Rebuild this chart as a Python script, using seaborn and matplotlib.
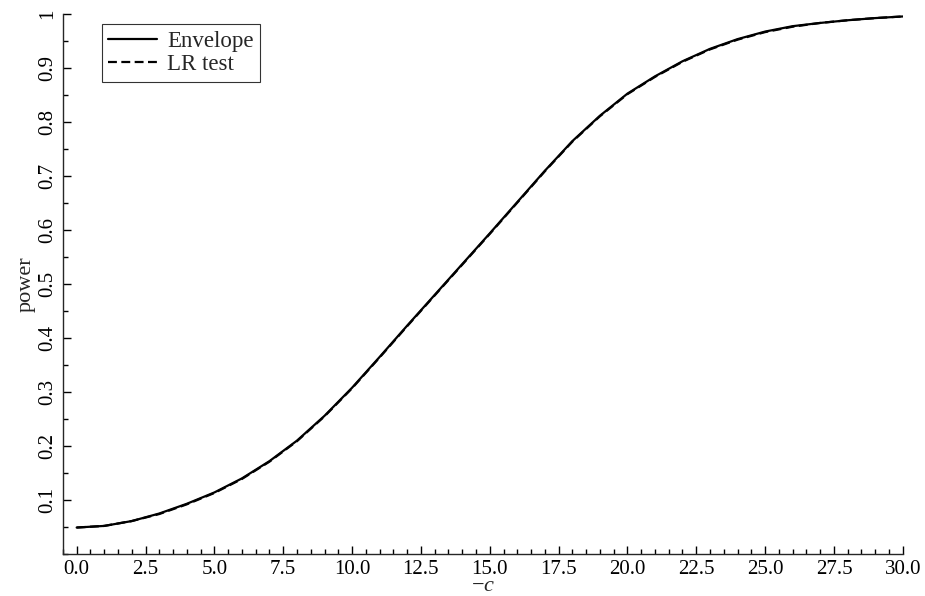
import pandas as pd
import matplotlib.pyplot as plt
import matplotlib.ticker as mticker
import seaborn as sns
import numpy as np

# values
c_neg = list(range(0, 31))
envelope = [0.049, 0.052, 0.061, 0.075, 0.093, 0.114, 0.140, 0.172, 0.210, 0.256,
            0.308, 0.365, 0.423, 0.480, 0.537, 0.594, 0.652, 0.710, 0.765, 0.812,
            0.853, 0.885, 0.913, 0.936, 0.954, 0.968, 0.978, 0.984, 0.989, 0.993, 0.996]
lr_test = [0.049, 0.052, 0.061, 0.074, 0.092, 0.113, 0.139, 0.171, 0.209, 0.255,
           0.307, 0.364, 0.422, 0.479, 0.536, 0.593, 0.651, 0.709, 0.764, 0.811,
           0.852, 0.884, 0.912, 0.935, 0.953, 0.967, 0.977, 0.984, 0.989, 0.993, 0.996]
x_ticks = [0, 2.5, 5, 7.5, 10, 12.5, 15, 17.5, 20, 22.5, 25, 27.5, 30]
y_ticks = [0.1, 0.2, 0.3, 0.4, 0.5, 0.6, 0.7, 0.8, 0.9, 1.0]
y_labels = ['0.1', '0.2', '0.3', '0.4', '0.5', '0.6', '0.7', '0.8', '0.9', '1']

df = pd.DataFrame({'c': c_neg * 2,
                   'power': envelope + lr_test,
                   'series': ['Envelope'] * len(c_neg) + ['LR test'] * len(c_neg)})

sns.set_style('ticks')
plt.rcParams['font.family'] = ['Liberation Serif', 'DejaVu Serif']
plt.rcParams['mathtext.fontset'] = 'custom'
plt.rcParams['mathtext.rm'] = 'Liberation Serif'
plt.rcParams['mathtext.it'] = 'Liberation Serif:italic'

fig = plt.figure(figsize=(9.25, 5.96), dpi=100)
ax = fig.add_axes([0.068, 0.0705, 0.908, 0.9055])

sns.lineplot(data=df, x='c', y='power', hue='series', style='series',
             palette=['black', 'black'], dashes=[(None, None), (4, 2)],
             linewidth=1.6, ax=ax)

ax.set_xlim(-0.5, 30)
ax.set_ylim(0, 1)
sns.despine(ax=ax)
ax.spines['left'].set_linewidth(1.0)
ax.spines['bottom'].set_linewidth(1.0)

ax.set_xticks(x_ticks)
ax.xaxis.set_major_formatter(mticker.FormatStrFormatter('%.1f'))
ax.xaxis.set_minor_locator(mticker.MultipleLocator(0.5))
ax.set_yticks(y_ticks)
ax.set_yticklabels(y_labels, rotation=90, va='center')
ax.yaxis.set_minor_locator(mticker.MultipleLocator(0.05))
ax.tick_params(which='major', direction='in', length=6, width=1, labelsize=15, colors='black')
ax.tick_params(which='minor', direction='in', length=3.5, width=1, colors='black')
ax.tick_params(axis='x', pad=4)
ax.tick_params(axis='y', pad=4)

ax.set_xlabel(r'$-c$', fontsize=16, labelpad=-1)
ax.set_ylabel('power', fontsize=16, labelpad=2)

leg = ax.legend(loc='upper left', bbox_to_anchor=(0.046, 0.982), borderaxespad=0,
                fontsize=16.5, frameon=True, fancybox=False, handlelength=2.1,
                handletextpad=0.45, borderpad=0.3, labelspacing=0.1)
leg.get_frame().set_edgecolor('black')
leg.get_frame().set_linewidth(0.8)
leg.set_title(None)

plt.savefig('out.png', dpi=100)
